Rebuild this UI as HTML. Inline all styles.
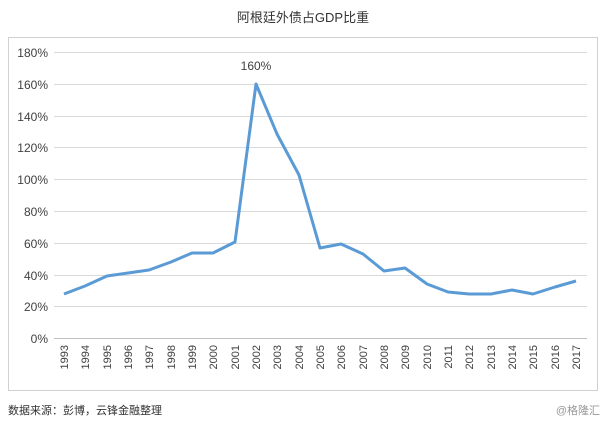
<!DOCTYPE html>
<html><head><meta charset="utf-8"><style>
body{margin:0;background:#fff;width:607px;height:425px;overflow:hidden;font-family:"Liberation Sans","Noto Sans CJK SC",sans-serif}
</style></head><body>
<svg width="607" height="425" xmlns="http://www.w3.org/2000/svg" font-family="Liberation Sans, Noto Sans CJK SC, sans-serif">
<text x="303" y="22" text-anchor="middle" font-size="13" fill="#333">阿根廷外债占GDP比重</text>
<rect x="8.5" y="37.5" width="589" height="353" fill="none" stroke="#d0d0d0"/>
<g stroke="#d9d9d9" stroke-width="1">
<line x1="54" x2="587" y1="52.5" y2="52.5"/><line x1="54" x2="587" y1="84.5" y2="84.5"/>
<line x1="54" x2="587" y1="116.5" y2="116.5"/><line x1="54" x2="587" y1="147.5" y2="147.5"/>
<line x1="54" x2="587" y1="179.5" y2="179.5"/><line x1="54" x2="587" y1="211.5" y2="211.5"/>
<line x1="54" x2="587" y1="243.5" y2="243.5"/><line x1="54" x2="587" y1="275.5" y2="275.5"/>
<line x1="54" x2="587" y1="306.5" y2="306.5"/>
</g>
<line x1="54" x2="587" y1="338.5" y2="338.5" stroke="#bfbfbf"/>
<g font-size="12" fill="#404040" text-anchor="end">
<text x="48" y="57">180%</text><text x="48" y="89">160%</text><text x="48" y="121">140%</text>
<text x="48" y="152">120%</text><text x="48" y="184">100%</text><text x="48" y="216">80%</text>
<text x="48" y="248">60%</text><text x="48" y="280">40%</text><text x="48" y="311">20%</text>
<text x="48" y="343">0%</text>
</g>
<g font-size="11" fill="#404040" text-anchor="end">
<text transform="translate(68,345) rotate(-90)">1993</text><text transform="translate(89,345) rotate(-90)">1994</text>
<text transform="translate(111,345) rotate(-90)">1995</text><text transform="translate(132,345) rotate(-90)">1996</text>
<text transform="translate(153,345) rotate(-90)">1997</text><text transform="translate(175,345) rotate(-90)">1998</text>
<text transform="translate(196,345) rotate(-90)">1999</text><text transform="translate(217,345) rotate(-90)">2000</text>
<text transform="translate(239,345) rotate(-90)">2001</text><text transform="translate(260,345) rotate(-90)">2002</text>
<text transform="translate(281,345) rotate(-90)">2003</text><text transform="translate(303,345) rotate(-90)">2004</text>
<text transform="translate(324,345) rotate(-90)">2005</text><text transform="translate(345,345) rotate(-90)">2006</text>
<text transform="translate(367,345) rotate(-90)">2007</text><text transform="translate(388,345) rotate(-90)">2008</text>
<text transform="translate(409,345) rotate(-90)">2009</text><text transform="translate(431,345) rotate(-90)">2010</text>
<text transform="translate(452,345) rotate(-90)">2011</text><text transform="translate(473,345) rotate(-90)">2012</text>
<text transform="translate(495,345) rotate(-90)">2013</text><text transform="translate(516,345) rotate(-90)">2014</text>
<text transform="translate(537,345) rotate(-90)">2015</text><text transform="translate(559,345) rotate(-90)">2016</text>
<text transform="translate(580,345) rotate(-90)">2017</text>
</g>
<polyline fill="none" stroke="#5b9bd5" stroke-width="3" stroke-linejoin="round" points="64,294 85,286 107,276 128,273 149,270 171,262 192,253 213,253 235,242 256,84 277,134 299,175 320,248 341,244 363,254 384,271 405,268 427,284 448,292 469,294 491,294 512,290 533,294 555,287 576,281"/>
<text x="256" y="70" text-anchor="middle" font-size="12" fill="#404040">160%</text>
<text x="8" y="414" font-size="11" fill="#333">数据来源：彭博，云锋金融整理</text>
<text x="600" y="414" text-anchor="end" font-size="11" fill="#999">@格隆汇</text>
</svg>
</body></html>
